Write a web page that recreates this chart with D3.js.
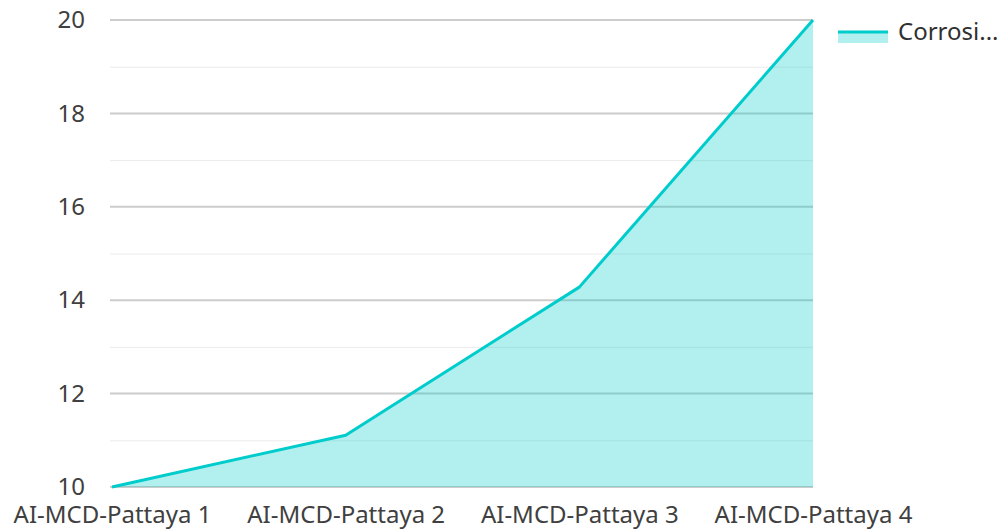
<!DOCTYPE html>
<html><head><meta charset="utf-8">
<script src="https://cdn.jsdelivr.net/npm/d3@7/dist/d3.min.js"></script>
<style>body{margin:0;background:#fff;}svg{display:block;font-family:"Noto Sans",sans-serif;}</style>
</head><body>
<svg id="c" width="1003" height="529"></svg>
<script>
const categories = ["AI-MCD-Pattaya 1","AI-MCD-Pattaya 2","AI-MCD-Pattaya 3","AI-MCD-Pattaya 4"];
const values = [10, 11.11, 14.28, 20];
const majorTicks = [10,12,14,16,18,20];
const minorTicks = [11,13,15,17,19];
const seriesName = "Corrosi...";

const svg = d3.select("#c");
const x = d3.scalePoint().domain(categories).range([112, 813]);
const y = d3.scaleLinear().domain([10, 20]).range([487, 20]);
const color = "#00cccc";

const g = svg.append("g");
g.selectAll(".minor").data(minorTicks).join("line")
  .attr("x1",110).attr("x2",813).attr("y1",d=>y(d)+0.5).attr("y2",d=>y(d)+0.5)
  .attr("stroke","#ebebeb").attr("stroke-width",1);
g.selectAll(".major").data(majorTicks).join("line")
  .attr("x1",110).attr("x2",813).attr("y1",d=>y(d)).attr("y2",d=>y(d))
  .attr("stroke","#cccccc").attr("stroke-width",2);

const data = categories.map((c,i)=>({c, v: values[i]}));
svg.append("path").datum(data)
  .attr("d", d3.area().x(d=>x(d.c)).y0(y(10)).y1(d=>y(d.v)))
  .attr("fill", color).attr("fill-opacity", 0.3);
svg.append("path").datum(data)
  .attr("d", d3.line().x(d=>x(d.c)).y(d=>y(d.v)))
  .attr("fill","none").attr("stroke",color).attr("stroke-width",3).attr("stroke-linejoin","round");

const yAxis = d3.axisLeft(y).tickValues(majorTicks).tickSize(0).tickPadding(27);
const ya = svg.append("g").attr("transform","translate(112,0)").call(yAxis);
ya.select(".domain").remove();
ya.selectAll("text").attr("font-size",24).attr("fill","#404040").attr("font-family","Noto Sans");

const xAxis = d3.axisBottom(x).tickSize(0).tickPadding(19);
const xa = svg.append("g").attr("transform","translate(0,487)").call(xAxis);
xa.select(".domain").remove();
xa.selectAll("text").attr("font-size",24).attr("fill","#404040").attr("font-family","Noto Sans");

// legend
const lg = svg.append("g").attr("transform","translate(838,32)");
lg.append("rect").attr("x",0).attr("y",0).attr("width",50).attr("height",11).attr("fill",color).attr("fill-opacity",0.3);
lg.append("line").attr("x1",0).attr("x2",50).attr("y1",0).attr("y2",0).attr("stroke",color).attr("stroke-width",3);
lg.append("text").attr("x",60).attr("y",8).attr("font-size",24).attr("fill","#303030").text(seriesName);
</script>
</body></html>
